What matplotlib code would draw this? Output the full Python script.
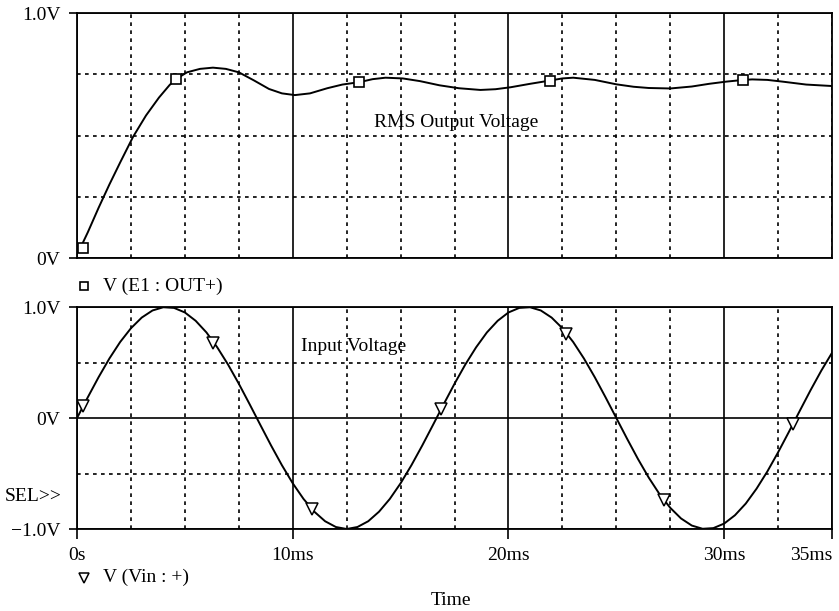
import matplotlib.pyplot as plt
import matplotlib.ticker as ticker
from matplotlib.lines import Line2D

plt.rcParams['font.family'] = ['Liberation Serif', 'DejaVu Serif']
FS = 14

# RMS output voltage, V(E1:OUT+) (time in ms)
rms_t = [0.15, 0.5, 1.0, 1.5, 2.0, 2.6, 3.2, 3.8, 4.3, 4.6, 5.1, 5.7, 6.3, 6.9,
         7.5, 8.2, 8.9, 9.5, 10.1, 10.8, 11.6, 12.3, 13.1, 13.7, 14.3, 15.1,
         15.9, 16.8, 17.7, 18.7, 19.4, 20.1, 21.0, 21.9, 22.5, 23.0, 24.0,
         25.0, 25.8, 26.5, 27.5, 28.5, 29.3, 30.1, 30.9, 31.3, 32.0, 32.7,
         33.8, 35.0]
rms_v = [0.040, 0.105, 0.205, 0.300, 0.390, 0.495, 0.582, 0.655, 0.707, 0.731,
         0.758, 0.772, 0.777, 0.772, 0.758, 0.725, 0.690, 0.672, 0.665, 0.672,
         0.693, 0.708, 0.718, 0.730, 0.736, 0.733, 0.722, 0.705, 0.693, 0.686,
         0.689, 0.697, 0.711, 0.724, 0.733, 0.736, 0.727, 0.709, 0.699, 0.694,
         0.692, 0.700, 0.711, 0.720, 0.727, 0.729, 0.727, 0.720, 0.708, 0.702]
rms_mark_t = [0.28, 4.6, 13.06, 21.94, 30.88]
rms_mark_v = [0.042, 0.731, 0.717, 0.724, 0.727]

# input voltage, V(Vin:+), read every 0.5 ms
vin_t = [i * 0.5 for i in range(71)]
vin_v = [0.000, 0.187, 0.368, 0.536, 0.685, 0.809, 0.905, 0.969, 0.998, 0.992,
         0.951, 0.876, 0.771, 0.637, 0.482, 0.309, 0.125, -0.063, -0.249, -0.426,
         -0.588, -0.729, -0.844, -0.930, -0.982, -1.000, -0.982, -0.930, -0.844,
         -0.729, -0.588, -0.426, -0.249, -0.063, 0.125, 0.309, 0.482, 0.637,
         0.771, 0.876, 0.951, 0.992, 0.998, 0.969, 0.905, 0.809, 0.685, 0.536,
         0.368, 0.187, 0.000, -0.187, -0.368, -0.536, -0.685, -0.809, -0.905,
         -0.969, -0.998, -0.992, -0.951, -0.876, -0.771, -0.637, -0.482, -0.309,
         -0.125, 0.063, 0.249, 0.426, 0.588]
vin_mark_t = [0.28, 6.3, 10.9, 16.85, 22.67, 27.2, 33.2]
vin_mark_v = [0.105, 0.68, -0.82, 0.08, 0.76, -0.74, -0.05]

x_ticks = [0, 10, 20, 30, 35]
x_labels = ['0s', '10ms', '20ms', '30ms', '35ms']

fig = plt.figure(figsize=(8.39, 6.11), dpi=100)
ax1 = fig.add_axes([0.0918, 0.5777, 0.8999, 0.401])
ax2 = fig.add_axes([0.0918, 0.1342, 0.8999, 0.3633])


def style_axes(ax, yticks, ylabels, ystep):
    ax.set_xlim(0, 35)
    ax.set_ylim(yticks[0], yticks[-1])
    ax.xaxis.set_major_locator(ticker.FixedLocator([0, 10, 20, 30]))
    ax.xaxis.set_minor_locator(ticker.MultipleLocator(2.5))
    ax.set_yticks(yticks)
    ax.set_yticklabels(ylabels, fontsize=FS)
    ax.yaxis.set_minor_locator(ticker.MultipleLocator(ystep))
    ax.grid(which='major', color='black', lw=1.2, ls='-')
    ax.grid(which='minor', color='black', lw=1.2, ls=(0, (2.2, 2.6)))
    ax.tick_params(which='minor', length=0)
    ax.tick_params(axis='y', which='major', length=6, width=1.2, pad=6)
    for s in ax.spines.values():
        s.set_linewidth(1.3)
    ax.set_axisbelow(True)


style_axes(ax1, [0, 1.0], ['0V', '1.0V'], 0.25)
ax1.tick_params(axis='x', which='major', length=0, labelbottom=False)

style_axes(ax2, [-1.0, 0, 1.0], ['\u22121.0V', '0V', '1.0V'], 0.5)
ax2.set_xticks(x_ticks)
ax2.set_xticklabels(x_labels, fontsize=FS)
ax2.xaxis.get_majorticklabels()[-1].set_horizontalalignment('right')
ax2.tick_params(axis='x', which='major', length=7, width=1.2, pad=6)
ax2.xaxis.set_minor_locator(ticker.MultipleLocator(2.5))
ax2.grid(which='minor', axis='x', color='black', lw=1.2, ls=(0, (2.2, 2.6)))

ax1.plot(rms_t, rms_v, color='black', lw=1.4, zorder=3)
ax1.plot(rms_mark_t, rms_mark_v, ls='none', marker='s', ms=6.5, mfc='white',
         mec='black', mew=1.2, zorder=4)
ax1.text(13.75, 0.555, 'RMS Output Voltage', fontsize=FS, va='center', ha='left')

ax2.plot(vin_t, vin_v, color='black', lw=1.4, zorder=3)
ax2.plot(vin_mark_t, vin_mark_v, ls='none', marker='v', ms=8, mfc='white',
         mec='black', mew=1.1, zorder=4)
ax2.text(10.4, 0.64, 'Input Voltage', fontsize=FS, va='center', ha='left')

# trace names below each plot
fig.add_artist(Line2D([0.1001], [0.532], marker='s', ms=6, mfc='white',
                      mec='black', mew=1.2, transform=fig.transFigure))
fig.text(0.1228, 0.532, 'V (E1 : OUT+)', fontsize=FS, va='center')
fig.add_artist(Line2D([0.1001], [0.0545], marker='v', ms=7, mfc='white',
                      mec='black', mew=1.1, transform=fig.transFigure))
fig.text(0.1228, 0.0545, 'V (Vin : +)', fontsize=FS, va='center')
fig.text(0.537, 0.0164, 'Time', fontsize=FS, va='center', ha='center')
fig.text(0.006, 0.1866, 'SEL>>', fontsize=FS, va='center', ha='left')

fig.savefig('out.png', dpi=100)
